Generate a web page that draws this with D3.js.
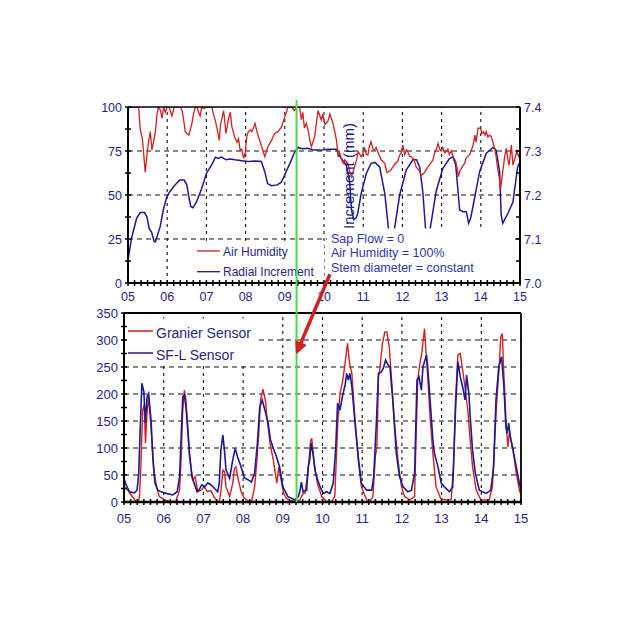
<!DOCTYPE html>
<html><head><meta charset="utf-8">
<script src="https://cdn.jsdelivr.net/npm/d3@7"></script>
<style>
html,body{margin:0;padding:0;background:#fff;}
svg text{font-family:"Liberation Sans",Arial,sans-serif;}
</style></head><body>
<svg id="c" width="635" height="635"></svg>
<script>
// ---------- data ----------
const dayTicks = [5,6,7,8,9,10,11,12,13,14,15];
const humidityTicks = [0,25,50,75,100];
const incrementTicks = [7.0,7.1,7.2,7.3,7.4];
const flowTicks = [0,50,100,150,200,250,300,350];
const eventDay = 9.3;
const annotationLines = ["Sap Flow = 0","Air Humidity = 100%","Stem diameter = constant"];
const topLegend = ["Air Humidity","Radial Increment"];
const bottomLegend = ["Granier Sensor","SF-L Sensor"];

const airHumidity = [[5.00,100],[5.10,100],[5.20,100],[5.27,100],[5.31,88],[5.37,81],[5.44,63],[5.48,72],[5.53,81],[5.57,86],[5.61,75.6],[5.65,80],[5.70,86],[5.74,96],[5.78,100],[5.83,98],[5.87,93.6],[5.91,100],[5.95,97],[6.00,100],[6.05,100],[6.12,95],[6.18,100],[6.25,100],[6.33,100],[6.38,98],[6.42,92.6],[6.46,86],[6.55,84],[6.60,88],[6.63,90.7],[6.67,96],[6.72,100],[6.76,100],[6.80,97],[6.84,95],[6.88,100],[6.93,99],[7.00,100],[7.08,100],[7.14,100],[7.18,96],[7.22,93],[7.27,88],[7.33,81],[7.36,90],[7.39,93],[7.44,98],[7.50,85],[7.56,93],[7.61,97],[7.65,88.8],[7.72,83],[7.78,80],[7.82,82],[7.86,75.6],[7.90,76],[7.95,70.8],[7.99,74],[8.03,83],[8.07,86],[8.12,87],[8.16,86],[8.20,88],[8.24,90.7],[8.30,85],[8.36,81],[8.45,74.6],[8.49,71.8],[8.57,77.5],[8.66,81],[8.74,85],[8.83,86],[8.92,88.8],[9.00,94.5],[9.04,97],[9.08,100],[9.17,100],[9.25,98],[9.30,100],[9.38,100],[9.42,92.6],[9.46,97],[9.50,88],[9.55,90.7],[9.60,86],[9.64,81],[9.68,77.5],[9.76,83],[9.80,90],[9.85,98],[9.93,92.6],[9.97,96],[10.02,90],[10.10,92],[10.15,96],[10.23,90.7],[10.32,81],[10.36,71.8],[10.40,74],[10.44,70.8],[10.49,68],[10.53,70],[10.61,68],[10.66,63],[10.70,60.4],[10.78,66],[10.83,70],[10.87,74.6],[10.95,71.8],[11.00,74],[11.04,76.5],[11.08,73],[11.12,72.7],[11.16,78],[11.20,80.3],[11.25,76],[11.29,75.6],[11.33,77],[11.38,74],[11.42,72],[11.46,70],[11.55,68],[11.60,63],[11.64,63.2],[11.70,64],[11.76,66],[11.82,68],[11.88,69],[11.93,72.7],[11.97,73.7],[12.01,78.4],[12.06,73],[12.10,75.6],[12.14,74.5],[12.18,72],[12.23,71.8],[12.30,70],[12.35,66],[12.43,64],[12.48,61.4],[12.53,62],[12.57,63],[12.65,66],[12.72,68],[12.78,70],[12.82,73.7],[12.87,76],[12.91,79.4],[12.95,76],[12.99,75],[13.03,77],[13.08,74],[13.12,74.6],[13.16,76],[13.20,73],[13.25,75],[13.29,72],[13.36,69],[13.39,66],[13.43,60.4],[13.47,64],[13.50,65],[13.55,67],[13.59,68],[13.62,70.8],[13.67,71.8],[13.72,73],[13.76,75.6],[13.80,78],[13.85,84],[13.88,80],[13.93,88],[13.99,88],[14.03,85],[14.07,86],[14.11,84],[14.14,86],[14.18,83],[14.22,84],[14.27,83],[14.31,80],[14.35,76.5],[14.39,72],[14.43,65],[14.47,60],[14.50,52.8],[14.54,60],[14.57,65],[14.61,72],[14.65,76.5],[14.69,70],[14.72,67],[14.76,74],[14.78,78.4],[14.82,67],[14.86,70],[14.92,75],[14.96,72],[15.00,73.7]];

const radialIncrement = [[5.00,7.052],[5.09,7.102],[5.22,7.147],[5.31,7.160],[5.42,7.160],[5.48,7.151],[5.54,7.124],[5.60,7.116],[5.67,7.094],[5.70,7.094],[5.82,7.128],[5.90,7.166],[5.99,7.196],[6.07,7.208],[6.20,7.223],[6.32,7.234],[6.43,7.234],[6.50,7.223],[6.56,7.192],[6.60,7.174],[6.66,7.171],[6.75,7.185],[6.88,7.215],[7.00,7.249],[7.13,7.268],[7.23,7.286],[7.30,7.283],[7.39,7.286],[7.50,7.280],[7.60,7.282],[7.73,7.280],[7.90,7.278],[8.07,7.276],[8.24,7.277],[8.40,7.276],[8.49,7.253],[8.56,7.226],[8.66,7.221],[8.81,7.223],[8.91,7.229],[9.00,7.246],[9.13,7.272],[9.25,7.297],[9.34,7.308],[9.45,7.305],[9.59,7.306],[9.75,7.302],[9.93,7.302],[10.10,7.304],[10.32,7.304],[10.36,7.295],[10.44,7.283],[10.57,7.268],[10.66,7.226],[10.70,7.166],[10.76,7.144],[10.82,7.148],[10.86,7.158],[10.95,7.204],[11.08,7.249],[11.20,7.272],[11.30,7.274],[11.42,7.264],[11.55,7.204],[11.63,7.136],[11.68,7.088],[11.74,7.088],[11.80,7.124],[11.93,7.200],[12.10,7.257],[12.27,7.280],[12.36,7.280],[12.44,7.264],[12.52,7.208],[12.59,7.124],[12.64,7.088],[12.71,7.124],[12.86,7.208],[13.03,7.260],[13.20,7.283],[13.29,7.287],[13.36,7.268],[13.42,7.208],[13.46,7.166],[13.55,7.162],[13.63,7.162],[13.69,7.136],[13.74,7.147],[13.84,7.192],[13.97,7.253],[14.14,7.295],[14.31,7.308],[14.39,7.302],[14.48,7.253],[14.52,7.154],[14.56,7.136],[14.69,7.158],[14.82,7.184],[14.94,7.264],[15.00,7.276]];

const granierSensor = [[5.00,28],[5.09,22],[5.18,13],[5.30,1],[5.36,0],[5.39,10],[5.43,78],[5.47,170],[5.51,180],[5.54,109],[5.58,164],[5.62,195],[5.68,139],[5.75,59],[5.82,28],[5.89,10],[6.02,4],[6.18,1],[6.30,1],[6.40,22],[6.44,84],[6.48,170],[6.52,207],[6.56,189],[6.60,146],[6.65,84],[6.73,41],[6.79,47],[6.86,19],[6.94,22],[7.02,28],[7.10,19],[7.19,21],[7.27,9],[7.36,1],[7.40,0],[7.44,19],[7.49,59],[7.53,56],[7.57,28],[7.66,10],[7.74,35],[7.78,62],[7.82,65],[7.88,41],[7.95,19],[8.03,7],[8.15,1],[8.22,3],[8.29,28],[8.34,70],[8.39,121],[8.44,189],[8.50,209],[8.56,189],[8.60,158],[8.63,139],[8.68,108],[8.76,78],[8.85,35],[8.90,65],[8.96,40],[9.02,16],[9.10,6],[9.19,3],[9.34,1],[9.43,4],[9.51,16],[9.56,16],[9.63,53],[9.70,112],[9.73,118],[9.79,72],[9.87,35],[9.98,10],[10.10,1],[10.23,1],[10.31,10],[10.38,139],[10.44,201],[10.50,220],[10.57,257],[10.63,294],[10.68,257],[10.74,238],[10.82,152],[10.90,78],[10.98,28],[11.11,4],[11.19,1],[11.27,10],[11.33,84],[11.37,102],[11.41,232],[11.44,244],[11.51,294],[11.57,315],[11.62,315],[11.68,288],[11.74,226],[11.82,139],[11.90,78],[11.99,28],[12.07,10],[12.20,4],[12.32,10],[12.36,127],[12.40,226],[12.44,250],[12.50,275],[12.57,321],[12.61,275],[12.65,232],[12.71,158],[12.78,90],[12.86,28],[12.98,6],[13.11,4],[13.24,4],[13.30,65],[13.35,189],[13.41,272],[13.47,275],[13.53,244],[13.59,213],[13.66,170],[13.72,115],[13.78,65],[13.87,22],[13.99,4],[14.20,4],[14.28,28],[14.38,176],[14.45,250],[14.49,306],[14.53,312],[14.56,250],[14.63,139],[14.67,102],[14.71,131],[14.80,96],[14.88,53],[14.97,19],[15.00,15]];

const sflSensor = [[5.00,44],[5.05,32],[5.14,19],[5.26,17],[5.33,22],[5.37,53],[5.41,139],[5.45,220],[5.50,204],[5.54,146],[5.58,195],[5.62,201],[5.68,152],[5.73,78],[5.78,35],[5.85,22],[5.93,19],[6.06,16],[6.23,13],[6.34,19],[6.40,47],[6.44,121],[6.48,195],[6.52,198],[6.56,176],[6.60,139],[6.65,90],[6.71,47],[6.78,32],[6.84,19],[6.90,24],[6.96,32],[7.03,28],[7.11,35],[7.19,32],[7.28,25],[7.36,19],[7.40,35],[7.44,96],[7.49,124],[7.53,96],[7.57,59],[7.66,44],[7.74,78],[7.80,99],[7.86,84],[7.95,65],[8.03,45],[8.15,40],[8.21,37],[8.29,53],[8.36,109],[8.42,176],[8.48,189],[8.56,167],[8.63,146],[8.69,115],[8.75,102],[8.84,84],[8.92,65],[9.00,28],[9.13,10],[9.30,4],[9.39,10],[9.43,20],[9.47,37],[9.51,19],[9.60,22],[9.64,65],[9.68,78],[9.71,109],[9.76,90],[9.81,59],[9.85,47],[9.94,28],[10.02,16],[10.10,19],[10.19,16],[10.27,35],[10.33,96],[10.38,183],[10.44,170],[10.50,195],[10.57,217],[10.61,238],[10.65,226],[10.69,238],[10.74,213],[10.82,146],[10.90,84],[10.98,35],[11.11,22],[11.24,22],[11.29,47],[11.36,152],[11.41,238],[11.48,241],[11.53,247],[11.59,263],[11.65,254],[11.70,250],[11.77,189],[11.86,90],[11.94,47],[12.03,28],[12.15,19],[12.24,22],[12.32,53],[12.38,226],[12.43,232],[12.49,207],[12.53,250],[12.57,260],[12.62,272],[12.65,250],[12.71,189],[12.78,115],[12.82,90],[12.91,65],[12.99,35],[13.07,28],[13.20,19],[13.28,28],[13.35,170],[13.41,260],[13.47,232],[13.53,213],[13.59,189],[13.63,235],[13.69,198],[13.72,158],[13.78,96],[13.85,53],[13.95,22],[14.12,16],[14.24,22],[14.31,65],[14.37,189],[14.44,250],[14.51,269],[14.57,213],[14.62,139],[14.65,127],[14.69,146],[14.73,120],[14.80,96],[14.88,65],[14.97,31],[15.00,25]];

// ---------- styles ----------
const RED = "#d21f1f", BLUE = "#1a1a94", LABEL = "#1f1f86", NOTE = "#3434a8", GREEN = "#44dd44";

const svg = d3.select("#c");
svg.append("rect").attr("width",635).attr("height",635).attr("fill","#fff");

const fmtDay = d => d3.format("02d")(d);

// ---------- scales ----------
const xTop = d3.scaleLinear().domain([5,15]).range([128,520]);
const yHum = d3.scaleLinear().domain([0,100]).range([283,107]);
const yInc = d3.scaleLinear().domain([7.0,7.4]).range([283,107]);
const xBot = d3.scaleLinear().domain([5,15]).range([124,521]);
const yFlow = d3.scaleLinear().domain([0,350]).range([502,313]);

const defs = svg.append("defs");
defs.append("clipPath").attr("id","clipTop").append("rect")
  .attr("x",xTop(5)).attr("y",yHum(100)).attr("width",xTop(15)-xTop(5)).attr("height",yHum(0)-yHum(100));
defs.append("clipPath").attr("id","clipBot").append("rect")
  .attr("x",xBot(5)).attr("y",yFlow(350)).attr("width",xBot(15)-xBot(5)).attr("height",yFlow(0)-yFlow(350));
defs.append("marker").attr("id","arrow").attr("viewBox","0 0 10 10").attr("refX",8).attr("refY",5)
  .attr("markerWidth",4).attr("markerHeight",3.6).attr("orient","auto").attr("markerUnits","strokeWidth")
  .append("path").attr("d","M0,0 L10,5 L0,10 Z").attr("fill",RED);

function grid(g, x, y, xs, ys){
  g.selectAll(".gv").data(xs).join("line").attr("class","gv")
    .attr("x1",d=>x(d)).attr("x2",d=>x(d)).attr("y1",y.range()[0]).attr("y2",y.range()[1])
    .attr("stroke","#111").attr("stroke-width",1.1).attr("stroke-dasharray","3,4");
  g.selectAll(".gh").data(ys).join("line").attr("class","gh")
    .attr("y1",d=>y(d)).attr("y2",d=>y(d)).attr("x1",x.range()[0]).attr("x2",x.range()[1])
    .attr("stroke","#111").attr("stroke-width",1.2).attr("stroke-dasharray","5,4");
}

// ================= TOP CHART =================
const gTop = svg.append("g");
grid(gTop.append("g"), xTop, yHum, dayTicks.slice(1,-1), humidityTicks.slice(1,-1));

const lineInc = d3.line().x(d=>xTop(d[0])).y(d=>yInc(d[1]));
const lineHum = d3.line().x(d=>xTop(d[0])).y(d=>yHum(d[1]));
const series = gTop.append("g").attr("clip-path","url(#clipTop)");
series.append("path").datum(radialIncrement).attr("d",lineInc).attr("fill","none").attr("stroke",BLUE).attr("stroke-width",1.5);
series.append("path").datum(airHumidity).attr("d",lineHum).attr("fill","none").attr("stroke",RED).attr("stroke-width",1.3);

// legend box (top)
gTop.append("rect").attr("x",xTop(6.7)).attr("y",yHum(24)).attr("width",xTop(10.0)-xTop(6.7)).attr("height",yHum(1)-yHum(24)).attr("fill","#fff");
topLegend.forEach((t,i)=>{
  const yy = 251 + i*20.7;
  gTop.append("line").attr("x1",197).attr("x2",220).attr("y1",yy).attr("y2",yy).attr("stroke",i?BLUE:RED).attr("stroke-width",1.3);
  gTop.append("text").attr("x",223).attr("y",yy+4.5).attr("font-size",12).attr("fill",LABEL).text(t);
});

// annotation box
gTop.append("rect").attr("x",xTop(10.08)).attr("y",yHum(31)).attr("width",xTop(14.85)-xTop(10.08)).attr("height",yHum(1.5)-yHum(31)).attr("fill","#fff");
annotationLines.forEach((t,i)=>{
  gTop.append("text").attr("x",331).attr("y",242.5+i*14.5).attr("font-size",12.5).attr("fill",NOTE).text(t);
});

// axes (top)
const axT = gTop.append("g");
axT.append("line").attr("x1",xTop(5)).attr("x2",xTop(15)).attr("y1",yHum(100)).attr("y2",yHum(100)).attr("stroke","#000").attr("stroke-width",1.6);
axT.append("line").attr("x1",xTop(15)).attr("x2",xTop(15)).attr("y1",yHum(100)).attr("y2",yHum(0)).attr("stroke","#000").attr("stroke-width",2);
axT.append("line").attr("x1",xTop(5)).attr("x2",xTop(5)).attr("y1",yHum(100)).attr("y2",yHum(0)).attr("stroke","#000").attr("stroke-width",2);
axT.append("line").attr("x1",xTop(5)-1).attr("x2",xTop(15)+1).attr("y1",yHum(0)).attr("y2",yHum(0)).attr("stroke","#000").attr("stroke-width",2.2);
const minorDays = d3.range(0,61).map(i=>5+i/6);
axT.selectAll(".mx").data(minorDays).join("line").attr("class","mx")
  .attr("x1",d=>xTop(d)).attr("x2",d=>xTop(d)).attr("y1",yHum(0)-3).attr("y2",yHum(0)+3).attr("stroke","#000").attr("stroke-width",1.5);
axT.selectAll(".my").data(d3.range(0,9).map(i=>i*12.5)).join("line").attr("class","my")
  .attr("y1",d=>yHum(d)).attr("y2",d=>yHum(d)).attr("x1",xTop(5)-3).attr("x2",xTop(5)+3).attr("stroke","#000").attr("stroke-width",1.5);
axT.selectAll(".ry").data(d3.range(0,9).map(i=>7+i*0.05)).join("line").attr("class","ry")
  .attr("y1",d=>yInc(d)).attr("y2",d=>yInc(d)).attr("x1",xTop(15)-4).attr("x2",xTop(15)).attr("stroke","#000").attr("stroke-width",1.5);
axT.selectAll(".lx").data(dayTicks).join("text").attr("class","lx")
  .attr("x",d=>xTop(d)).attr("y",301).attr("text-anchor","middle").attr("font-size",12.5).attr("fill",LABEL).text(fmtDay);
axT.selectAll(".ly").data(humidityTicks).join("text").attr("class","ly")
  .attr("x",xTop(5)-6).attr("y",d=>yHum(d)+4.5).attr("text-anchor","end").attr("font-size",12.5).attr("fill",LABEL).text(d=>d);
axT.selectAll(".lr").data(incrementTicks).join("text").attr("class","lr")
  .attr("x",xTop(15)+4).attr("y",d=>yInc(d)+4.5).attr("text-anchor","start").attr("font-size",12.5).attr("fill",LABEL).text(d=>d3.format(".1f")(d));
gTop.append("text").attr("transform",`translate(354,${(yHum(100)+yHum(0))/2-19}) rotate(-90)`)
  .attr("text-anchor","middle").attr("font-size",15).attr("fill",BLUE).text("Increment (mm)");

// ================= BOTTOM CHART =================
const gBot = svg.append("g");
grid(gBot.append("g"), xBot, yFlow, dayTicks.slice(1,-1), flowTicks.slice(1,-1));
const lineF = d3.line().x(d=>xBot(d[0])).y(d=>yFlow(d[1]));
const sb = gBot.append("g").attr("clip-path","url(#clipBot)");
sb.append("path").datum(granierSensor).attr("d",lineF).attr("fill","none").attr("stroke",RED).attr("stroke-width",1.4);
sb.append("path").datum(sflSensor).attr("d",lineF).attr("fill","none").attr("stroke",BLUE).attr("stroke-width",1.6);

gBot.append("rect").attr("x",xBot(5)+2).attr("y",yFlow(340)).attr("width",xBot(8.3)-xBot(5)-2).attr("height",yFlow(255)-yFlow(340)).attr("fill","#fff");
bottomLegend.forEach((t,i)=>{
  const yy = 331 + i*22;
  gBot.append("line").attr("x1",128).attr("x2",153).attr("y1",yy).attr("y2",yy).attr("stroke",i?BLUE:RED).attr("stroke-width",1.5);
  gBot.append("text").attr("x",156).attr("y",yy+6.5).attr("font-size",14).attr("fill",LABEL).text(t);
});

const axB = gBot.append("g");
axB.append("line").attr("x1",xBot(5)).attr("x2",xBot(15)).attr("y1",yFlow(350)).attr("y2",yFlow(350)).attr("stroke","#000").attr("stroke-width",1.8);
axB.append("line").attr("x1",xBot(15)).attr("x2",xBot(15)).attr("y1",yFlow(350)).attr("y2",yFlow(0)).attr("stroke","#000").attr("stroke-width",1.8);
axB.append("line").attr("x1",xBot(5)).attr("x2",xBot(5)).attr("y1",yFlow(350)).attr("y2",yFlow(0)).attr("stroke","#000").attr("stroke-width",2);
axB.append("line").attr("x1",xBot(5)-1).attr("x2",xBot(15)+1).attr("y1",yFlow(0)).attr("y2",yFlow(0)).attr("stroke","#000").attr("stroke-width",2.4);
axB.selectAll(".mx").data(minorDays).join("line").attr("class","mx")
  .attr("x1",d=>xBot(d)).attr("x2",d=>xBot(d)).attr("y1",yFlow(0)-3).attr("y2",yFlow(0)+3).attr("stroke","#000").attr("stroke-width",1.5);
axB.selectAll(".my").data(d3.range(0,15).map(i=>i*25)).join("line").attr("class","my")
  .attr("y1",d=>yFlow(d)).attr("y2",d=>yFlow(d)).attr("x1",xBot(5)-3).attr("x2",xBot(5)+3).attr("stroke","#000").attr("stroke-width",1.5);
axB.selectAll(".lx").data(dayTicks).join("text").attr("class","lx")
  .attr("x",d=>xBot(d)).attr("y",523).attr("text-anchor","middle").attr("font-size",13).attr("fill",LABEL).text(fmtDay);
axB.selectAll(".ly").data(flowTicks).join("text").attr("class","ly")
  .attr("x",xBot(5)-6).attr("y",d=>yFlow(d)+4.5).attr("text-anchor","end").attr("font-size",13).attr("fill",LABEL).text(d=>d);

// ================= event line & arrow =================
svg.append("line").attr("x1",xTop(eventDay)).attr("x2",xTop(eventDay)).attr("y1",yHum(100)-7).attr("y2",yFlow(0))
  .attr("stroke",GREEN).attr("stroke-width",2);
svg.append("line").attr("x1",xTop(10.15)).attr("y1",yHum(5)).attr("x2",xBot(9.36)).attr("y2",yFlow(278))
  .attr("stroke",RED).attr("stroke-width",3.5).attr("marker-end","url(#arrow)");
</script>
</body></html>
